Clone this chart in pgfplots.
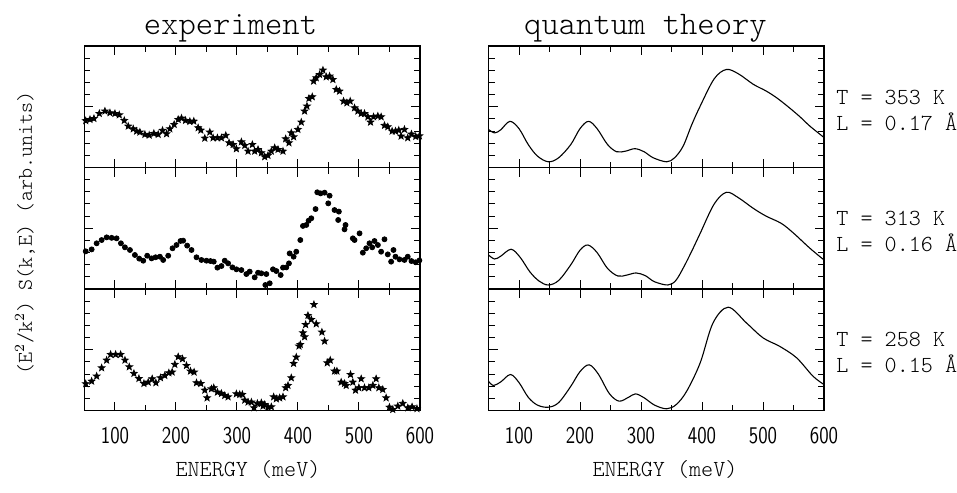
\documentclass[border=0pt]{standalone}
\usepackage{pgfplots}
\pgfplotsset{compat=1.18}
\pgfdeclareplotmark{fstar}{%
 \pgfpathmoveto{\pgfpointpolar{90}{\pgfplotmarksize}}%
 \pgfpathlineto{\pgfpointpolar{126}{0.42\pgfplotmarksize}}%
 \pgfpathlineto{\pgfpointpolar{162}{\pgfplotmarksize}}%
 \pgfpathlineto{\pgfpointpolar{198}{0.42\pgfplotmarksize}}%
 \pgfpathlineto{\pgfpointpolar{234}{\pgfplotmarksize}}%
 \pgfpathlineto{\pgfpointpolar{270}{0.42\pgfplotmarksize}}%
 \pgfpathlineto{\pgfpointpolar{306}{\pgfplotmarksize}}%
 \pgfpathlineto{\pgfpointpolar{342}{0.42\pgfplotmarksize}}%
 \pgfpathlineto{\pgfpointpolar{18}{\pgfplotmarksize}}%
 \pgfpathlineto{\pgfpointpolar{54}{0.42\pgfplotmarksize}}%
 \pgfpathclose
 \pgfusepathqfillstroke}
\newcommand\lt{\ttfamily\fontseries{l}\selectfont}
\pgfplotsset{
 panel/.style={scale only axis, width=167.75pt, height=60.75pt,
  xmin=50, xmax=600, ymin=0, ymax=10,
  xtick={100,200,...,600}, minor xtick={150,250,...,550},
  ytick={5}, minor ytick={1,2,3,4,6,7,8,9}, yticklabels={},
  tick align=inside, major tick length=4.5pt, minor tick length=3pt,
  axis line style={line width=0.6pt}, every tick/.style={black, line width=0.5pt},
  clip=false,
  /pgf/number format/assume math mode=true,
  xticklabel style={font=\fontsize{12}{12}\selectfont\sffamily, yshift=-5pt},
  xticklabel={\scalebox{0.8}[1]{\pgfmathprintnumber[1000 sep={}]{\tick}}}},
 notx/.style={xticklabels={}},
 expt/.style={only marks, mark=fstar, mark size=1.7pt, black},
 dots/.style={only marks, mark=*, mark size=1.25pt, black},
 theo/.style={no marks, smooth, tension=0.55, black, line width=0.55pt},
}
\begin{document}
\begin{tikzpicture}
\path[use as bounding box] (0,0) rectangle (478.5pt,-246pt);
% ---------- experiment ----------
\begin{axis}[panel, notx, at={(42.25pt,-23pt)}, anchor=north west]
\addplot[expt] coordinates {
(52,3.85)(59.0,3.95)(65.5,4.03)(74.3,4.44)(83.5,4.64)(91.7,4.50)(99.9,4.44)(107.0,4.33)
(115.2,3.87)(121.7,3.40)(129.9,3.18)(135.4,2.99)(140.8,2.91)(149.0,2.72)(156.1,2.66)
(163.7,2.80)(170.8,2.72)(177.9,3.05)(184.5,2.77)(189.9,3.18)(197.0,3.54)(203.6,3.95)
(209.0,4.06)(215.6,3.87)(222.7,3.79)(229.2,3.81)(236.3,3.27)(240.7,3.07)(247.2,2.41)
(255.4,2.91)(260.8,2.44)(267.9,2.44)(274.5,2.44)(281.6,2.64)(287.0,2.03)(293.6,1.89)
(299.0,1.54)(307.2,2.11)(312.7,1.81)(318.1,1.34)(325.2,1.89)(329.0,1.34)(334.5,1.48)
(339.9,1.21)(345.4,0.88)(350.8,0.99)(356.3,1.34)(361.8,1.62)(367.2,1.48)(375.4,1.34)
(379.8,2.36)(385.2,2.03)(389.0,2.85)(392.8,2.52)(399.9,3.13)(405.4,3.73)(410.8,4.64)
(414.7,5.05)(417.9,5.68)(423.4,5.82)(425.6,7.11)(429.9,7.38)(435.4,7.65)(440.9,8.01)
(446.3,7.46)(451.8,7.52)(457.2,7.24)(462.7,6.42)(468.1,6.28)(474.7,5.46)(480.1,5.32)
(485.6,5.46)(492.7,4.91)(498.1,4.64)(503.6,4.44)(509.0,4.44)(514.5,4.17)(518.9,3.73)
(523.8,4.17)(530.9,4.23)(536.3,4.17)(541.8,3.46)(547.2,3.35)(554.3,2.99)(559.8,2.99)
(565.2,3.07)(569.0,2.58)(574.5,3.13)(579.9,2.44)(586,2.75)(593,2.55)(599,2.6)};
\end{axis}
\begin{axis}[panel, notx, at={(42.25pt,-83.75pt)}, anchor=north west]
\addplot[dots] coordinates {
(52,3.1)(61.7,3.26)(69.9,3.76)(78.1,4.03)(86.3,4.25)(94.5,4.21)(102.6,4.17)(109.7,3.76)
(116.3,3.43)(124.5,3.21)(132.6,2.80)(139.7,2.50)(146.3,2.33)(152.8,2.74)(159.9,2.52)
(166.5,2.61)(173.6,2.66)(179.0,2.39)(187.2,2.74)(194.3,3.35)(200.8,3.62)(207.4,3.95)
(211.7,3.98)(218.3,3.57)(225.4,3.21)(233.6,2.61)(241.7,2.39)(249.9,2.33)(256.5,2.30)
(261.9,2.25)(267.9,1.76)(274.5,1.89)(279.9,2.33)(285.4,2.11)(292.5,1.78)(299.0,1.62)
(307.2,1.56)(315.4,1.23)(320.8,1.43)(329.0,0.96)(334.5,1.34)(339.9,1.29)(346.5,0.33)
(353.6,0.47)(348.1,1.23)(359.0,1.62)(364.5,1.48)(371.6,1.15)(375.4,1.76)(380.8,1.78)
(385.2,2.11)(386.3,2.93)(392.8,2.66)(397.2,3.07)(403.8,4.03)(408.1,5.19)(413.6,5.27)
(417.4,5.62)(421.8,5.82)(428.8,6.58)(431.6,7.96)(437.0,7.87)(443.6,7.93)(451.8,7.68)
(449.6,7.05)(459.9,6.50)(467.0,6.37)(465.9,5.68)(477.9,5.27)(476.3,4.91)(489.9,4.17)
(492.7,4.03)(500.9,4.58)(506.3,2.99)(511.8,3.35)(517.2,3.76)(521.6,3.43)(525.4,3.95)
(530.9,3.62)(536.3,3.07)(541.8,4.09)(547.2,2.85)(552.7,2.25)(556.5,3.21)(559.8,2.66)
(566.3,2.44)(574.5,2.39)(579.9,2.66)(586,2.3)(593,2.2)(599,2.35)};
\end{axis}
\begin{axis}[panel, at={(42.25pt,-144.5pt)}, anchor=north west]
\addplot[expt] coordinates {
(52,2.2)(61.7,2.41)(69.9,2.83)(78.1,3.51)(86.3,4.14)(92.8,4.61)(101.0,4.61)(109.2,4.61)
(116.3,4.14)(123.4,3.59)(131.0,3.05)(139.2,2.63)(147.4,2.22)(154.5,2.33)(161.0,2.61)
(167.0,2.28)(174.6,2.69)(181.7,2.88)(188.3,3.10)(193.7,3.16)(198.1,3.79)(203.6,4.42)
(210.7,4.25)(217.2,3.70)(223.7,3.24)(229.7,3.16)(233.6,2.28)(240.7,2.22)(247.2,1.67)
(251.0,1.04)(258.1,1.78)(261.9,1.87)(267.9,1.51)(274.5,1.40)(279.9,1.23)(285.4,1.12)
(299.0,1.37)(304.5,1.32)(308.8,1.32)(312.7,0.85)(318.1,0.69)(323.6,0.69)(327.9,0.22)
(333.4,0.58)(339.9,0.63)(345.4,0.49)(342.7,0.36)(350.8,0.27)(356.3,0.30)(360.1,1.12)
(364.5,0.96)(369.9,1.04)(375.4,1.12)(379.8,1.87)(383.6,2.06)(389.0,2.69)(392.8,3.87)
(397.2,4.39)(401.6,5.30)(403.8,5.43)(408.1,6.39)(410.8,6.06)(412.5,7.07)(416.3,7.82)
(421.8,7.49)(426.1,8.72)(429.9,7.13)(439.2,6.45)(443.6,5.71)(448.0,3.92)(452.9,4.14)
(459.9,3.24)(463.8,3.24)(470.8,2.33)(476.3,2.22)(479.0,2.06)(486.1,2.96)(489.9,2.33)
(494.3,1.67)(499.8,1.87)(503.6,2.61)(509.0,1.87)(516.1,1.87)(522.7,2.06)(528.1,2.61)
(532.5,1.87)(539.0,1.73)(544.5,1.04)(549.9,0.27)(555.4,0.08)(563.6,0.36)(571.8,0.58)
(580.0,0.22)(587,0.3)(595,0.15)};
\end{axis}
% ---------- theory ----------
\begin{axis}[panel, notx, at={(244.25pt,-23pt)}, anchor=north west]
\addplot[theo] coordinates {
(50,3.13)(60,2.85)(70,3.1)(85,3.8)(100,3.2)(115,1.9)(130,0.95)(148,0.47)(165,0.8)
(185,1.9)(200,3.2)(214,3.8)(228,3.2)(245,1.9)(260,1.3)(275,1.35)(290,1.55)(305,1.3)
(320,0.8)(342,0.47)(355,0.8)(369,1.75)(383,3.5)(397,5.05)(420,7.3)(440,8.07)(460,7.7)
(484,6.85)(505,6.3)(522,5.75)(540,5.05)(560,4.2)(577,3.4)(600,2.47)};
\end{axis}
\begin{axis}[panel, notx, at={(244.25pt,-83.75pt)}, anchor=north west]
\addplot[theo] coordinates {
(50,2.8)(60,2.47)(70,2.7)(87,3.27)(102,2.6)(118,1.4)(133,0.65)(148,0.33)(165,0.7)
(185,2.0)(200,3.2)(213,3.62)(228,3.0)(245,1.7)(262,1.07)(277,1.15)(292,1.32)(307,1.1)
(322,0.6)(344,0.33)(357,0.7)(370,1.8)(384,3.2)(397,4.58)(420,7.0)(440,7.96)(460,7.5)
(484,6.64)(505,6.0)(530,5.4)(550,4.6)(577,3.35)(600,2.39)};
\end{axis}
\begin{axis}[panel, at={(244.25pt,-144.5pt)}, anchor=north west]
\addplot[theo] coordinates {
(50,2.41)(58,2.06)(70,2.35)(86,2.96)(100,2.3)(115,1.1)(130,0.45)(148,0.27)(165,0.65)
(185,2.0)(200,3.2)(215,3.76)(230,3.0)(248,1.4)(264,0.77)(280,1.1)(291,1.37)(305,1.05)
(322,0.45)(342,0.14)(358,0.5)(375,1.6)(397,3.92)(418,7.2)(443,8.5)(473,7.2)(500,5.98)
(527,5.29)(555,4.34)(582,2.82)(600,2.14)};
\end{axis}
% ---------- texts ----------
\node[anchor=base, font=\fontsize{16.5}{18}\lt] at (115.25pt,-17.5pt) {experiment};
\node[anchor=base, font=\fontsize{16.5}{18}\lt] at (322.75pt,-17.5pt) {quantum theory};
\node[rotate=90, font=\fontsize{10.5}{12}\lt] at (12.5pt,-116.5pt) {(E$^2$/k$^2$) S(k,E) (arb.units)};
\node[anchor=base, font=\fontsize{11.5}{12}\lt] at (124pt,-238pt) {ENERGY (meV)};
\node[anchor=base, font=\fontsize{11.5}{12}\lt] at (332.5pt,-238pt) {ENERGY (meV)};
\foreach \yy/\tt/\ll in {-55/353/0.17, -115.5/313/0.16, -176/258/0.15}{
 \node[anchor=west, align=left, font=\fontsize{11.5}{13}\lt, inner sep=0pt] at (418pt,\yy pt) {T = \tt{} K\\L = \ll{} Å};
}
\end{tikzpicture}
\end{document}
